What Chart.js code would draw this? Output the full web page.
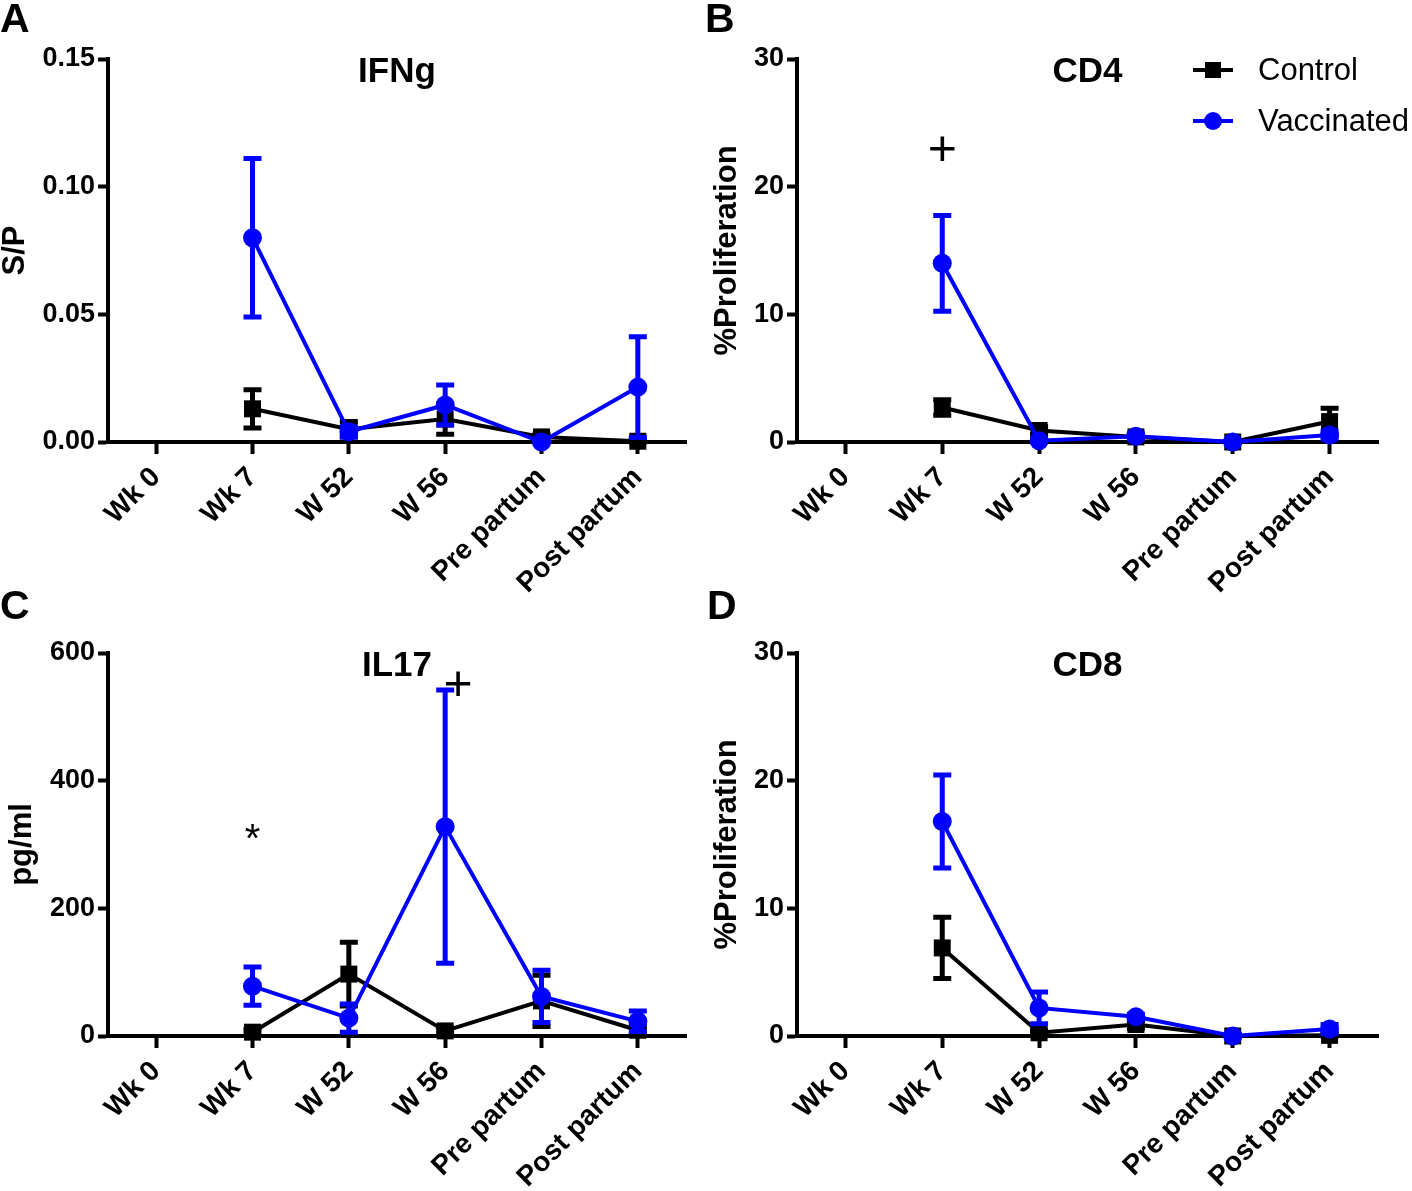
<!DOCTYPE html>
<html><head><meta charset="utf-8">
<script src="https://cdn.jsdelivr.net/npm/chart.js@4/dist/chart.umd.min.js"></script>
<style>
html,body{margin:0;padding:0;background:#fff;}
body{width:1412px;height:1191px;position:relative;overflow:hidden;}
canvas{position:absolute;}
</style></head><body>
<canvas id="cA" width="700" height="600" style="left:0;top:0"></canvas>
<canvas id="cB" width="712" height="600" style="left:700px;top:0"></canvas>
<canvas id="cC" width="700" height="611" style="left:0;top:580px"></canvas>
<canvas id="cD" width="712" height="611" style="left:700px;top:580px"></canvas>
<script>
// ---------- data ----------
const categories = ['Wk 0', 'Wk 7', 'W 52', 'W 56', 'Pre partum', 'Post partum'];
const seriesNames = ['Control', 'Vaccinated'];

// A: IFNg (S/P)
const ifngControl    = [null, 0.013, 0.005, 0.009, 0.002, 0.0003];
const ifngControlErr = [null, 0.0075, 0.003, 0.006, 0.001, 0.0005];
const ifngVacc       = [null, 0.080, 0.004, 0.0145, 0.0, 0.0215];
const ifngVaccErr    = [null, 0.031, 0.002, 0.0078, 0.0005, 0.0197];
const ifngTicks      = [0, 0.05, 0.10, 0.15];

// B: CD4 (%Proliferation)
const cd4Control    = [null, 2.7, 0.9, 0.4, 0.0, 1.6];
const cd4ControlErr = [null, 0.6, 0.3, 0.2, 0.1, 1.05];
const cd4Vacc       = [null, 14.0, 0.1, 0.45, 0.0, 0.55];
const cd4VaccErr    = [null, 3.75, 0.1, 0.2, 0.1, 0.3];
const cd4Ticks      = [0, 10, 20, 30];

// C: IL17 (pg/ml)
const il17Control    = [null, 6, 97, 8, 55, 9];
const il17ControlErr = [null, 4, 50, 4, 40, 6];
const il17Vacc       = [null, 78, 28, 328, 62, 23];
const il17VaccErr    = [null, 30, 22, 214, 41, 16];
const il17Ticks      = [0, 200, 400, 600];

// D: CD8 (%Proliferation)
const cd8Control    = [null, 6.9, 0.25, 0.9, 0.0, 0.05];
const cd8ControlErr = [null, 2.4, 0.2, 0.3, 0.1, 0.1];
const cd8Vacc       = [null, 16.8, 2.2, 1.5, 0.0, 0.55];
const cd8VaccErr    = [null, 3.65, 1.25, 0.2, 0.1, 0.35];
const cd8Ticks      = [0, 10, 20, 30];

// significance marks: [category index, value, symbol]
const cd4Marks  = [[1, 23.0, '+']];
const il17Marks = [[1, 321, '*'], [3, 553, '+']];

// ---------- styling ----------
const BLUE = '#0000ff';
const BLACK = '#000000';
const FONT = '"Liberation Sans", Arial, Helvetica, sans-serif';

const errorBars = {
  id: 'errorBars',
  beforeDatasetDraw(chart, args) {
    const ds = chart.data.datasets[args.index];
    if (!ds.errors) return;
    const ys = chart.scales.y, ctx = chart.ctx;
    ctx.save();
    ctx.strokeStyle = ds.borderColor;
    ctx.lineWidth = 5;
    ctx.lineCap = 'butt';
    args.meta.data.forEach((pt, i) => {
      const v = ds.data[i], e = ds.errors[i];
      if (v == null || e == null) return;
      const top = ys.getPixelForValue(v + e);
      const bot = ys.getPixelForValue(Math.max(v - e, ys.min));
      ctx.beginPath();
      ctx.moveTo(pt.x, top); ctx.lineTo(pt.x, bot);
      ctx.moveTo(pt.x - 9, top); ctx.lineTo(pt.x + 9, top);
      ctx.moveTo(pt.x - 9, bot); ctx.lineTo(pt.x + 9, bot);
      ctx.stroke();
    });
    ctx.restore();
  }
};

const decorations = {
  id: 'decorations',
  afterDraw(chart, args, opts) {
    const ctx = chart.ctx, ca = chart.chartArea;
    ctx.save();
    // panel letter
    ctx.fillStyle = BLACK;
    ctx.font = 'bold 41px ' + FONT;
    ctx.textAlign = 'left';
    ctx.textBaseline = 'alphabetic';
    ctx.fillText(opts.letter, opts.letterX, opts.letterY);
    // panel title
    ctx.font = 'bold 35px ' + FONT;
    ctx.textAlign = 'center';
    ctx.fillText(opts.title, (ca.left + ca.right) / 2, ca.top + 23);
    // significance marks
    (opts.marks || []).forEach(([ci, val, sym]) => {
      const x = chart.scales.x.getPixelForValue(ci) + (sym === '+' && ci === 3 ? 13 : 0);
      const y = chart.scales.y.getPixelForValue(val);
      ctx.font = (sym === '*' ? '40px ' : '50px ') + FONT;
      const m = ctx.measureText(sym);
      ctx.textAlign = 'center';
      ctx.textBaseline = 'alphabetic';
      ctx.fillText(sym, x, y + (m.actualBoundingBoxAscent - m.actualBoundingBoxDescent) / 2);
    });
    // legend
    if (opts.legend) {
      const rows = [[seriesNames[0], BLACK, 'rect'], [seriesNames[1], BLUE, 'circle']];
      rows.forEach(([name, col, shape], k) => {
        const y = ca.top + 11 + k * 51;
        const x0 = ca.right - 185, x1 = ca.right - 145, xm = (x0 + x1) / 2;
        ctx.strokeStyle = col; ctx.fillStyle = col; ctx.lineWidth = 4;
        ctx.beginPath(); ctx.moveTo(x0, y); ctx.lineTo(x1, y); ctx.stroke();
        ctx.beginPath();
        if (shape === 'rect') ctx.rect(xm - 8, y - 8, 16, 16);
        else ctx.arc(xm, y, 9, 0, Math.PI * 2);
        ctx.fill();
        ctx.fillStyle = BLACK;
        ctx.font = '31px ' + FONT;
        ctx.textAlign = 'left';
        ctx.textBaseline = 'middle';
        ctx.fillText(name, ca.right - 120, y + 1);
      });
    }
    ctx.restore();
  }
};

function makePanel(id, cfg) {
  const ticksArr = cfg.ticks;
  new Chart(document.getElementById(id), {
    type: 'line',
    data: {
      labels: categories,
      datasets: [
        { label: seriesNames[1], data: cfg.vacc, errors: cfg.vaccErr, borderColor: BLUE, backgroundColor: BLUE,
          pointStyle: 'circle', pointRadius: 9.5, pointBorderWidth: 0, borderWidth: 4, clip: false, order: 0 },
        { label: seriesNames[0], data: cfg.ctrl, errors: cfg.ctrlErr, borderColor: BLACK, backgroundColor: BLACK,
          pointStyle: 'rect', pointRadius: 12, pointBorderWidth: 0, borderWidth: 4, clip: false, order: 1 }
      ]
    },
    options: {
      responsive: false, animation: false, events: [],
      layout: { padding: { left: 0, right: cfg.padRight, top: cfg.padTop, bottom: 0 } },
      plugins: {
        legend: { display: false }, tooltip: { enabled: false },
        decorations: { letter: cfg.letter, letterX: cfg.letterX, letterY: cfg.letterY,
                       title: cfg.title, marks: cfg.marks, legend: cfg.legend }
      },
      scales: {
        x: {
          type: 'category', offset: true,
          grid: { display: true, drawOnChartArea: false, drawTicks: true, tickLength: 12, tickWidth: 4,
                  tickColor: BLACK, offset: false },
          border: { display: true, color: BLACK, width: 4 },
          ticks: { autoSkip: false, minRotation: 45, maxRotation: 45, padding: 7, color: BLACK,
                   font: { family: FONT, size: 28, weight: 'bold' } },
          afterFit: s => { s.height = cfg.xHeight; }
        },
        y: {
          min: ticksArr[0], max: ticksArr[ticksArr.length - 1],
          afterBuildTicks: s => { s.ticks = ticksArr.map(v => ({ value: v })); },
          grid: { display: true, drawOnChartArea: false, drawTicks: true, tickLength: 10, tickWidth: 4, tickColor: BLACK },
          border: { display: true, color: BLACK, width: 4 },
          ticks: { padding: 3, color: BLACK, font: { family: FONT, size: 27, weight: 'bold' },
                   callback: v => v.toFixed(cfg.decimals) },
          title: { display: true, text: cfg.yTitle, color: BLACK, padding: { top: cfg.titlePad, bottom: 0 },
                   font: { family: FONT, size: 31, weight: 'bold', lineHeight: 1 } },
          afterFit: s => { s.width = cfg.yWidth; }
        }
      }
    },
    plugins: [errorBars, decorations]
  });
}

makePanel('cA', { ctrl: ifngControl, ctrlErr: ifngControlErr, vacc: ifngVacc, vaccErr: ifngVaccErr, ticks: ifngTicks,
  decimals: 2, yTitle: 'S/P', title: 'IFNg', letter: 'A', letterX: 0, letterY: 32,
  padTop: 59, padRight: 14, yWidth: 108, xHeight: 158, titlePad: 0, marks: [] });
makePanel('cB', { ctrl: cd4Control, ctrlErr: cd4ControlErr, vacc: cd4Vacc, vaccErr: cd4VaccErr, ticks: cd4Ticks,
  decimals: 0, yTitle: '%Proliferation', title: 'CD4', letter: 'B', letterX: 5, letterY: 32,
  padTop: 59, padRight: 34, yWidth: 97, xHeight: 158, titlePad: 12, marks: cd4Marks, legend: true });
makePanel('cC', { ctrl: il17Control, ctrlErr: il17ControlErr, vacc: il17Vacc, vaccErr: il17VaccErr, ticks: il17Ticks,
  decimals: 0, yTitle: 'pg/ml', title: 'IL17', letter: 'C', letterX: 0, letterY: 39,
  padTop: 73, padRight: 14, yWidth: 108, xHeight: 155, titlePad: 7, marks: il17Marks });
makePanel('cD', { ctrl: cd8Control, ctrlErr: cd8ControlErr, vacc: cd8Vacc, vaccErr: cd8VaccErr, ticks: cd8Ticks,
  decimals: 0, yTitle: '%Proliferation', title: 'CD8', letter: 'D', letterX: 7, letterY: 39,
  padTop: 73, padRight: 34, yWidth: 97, xHeight: 155, titlePad: 12, marks: [] });
</script>
</body></html>
